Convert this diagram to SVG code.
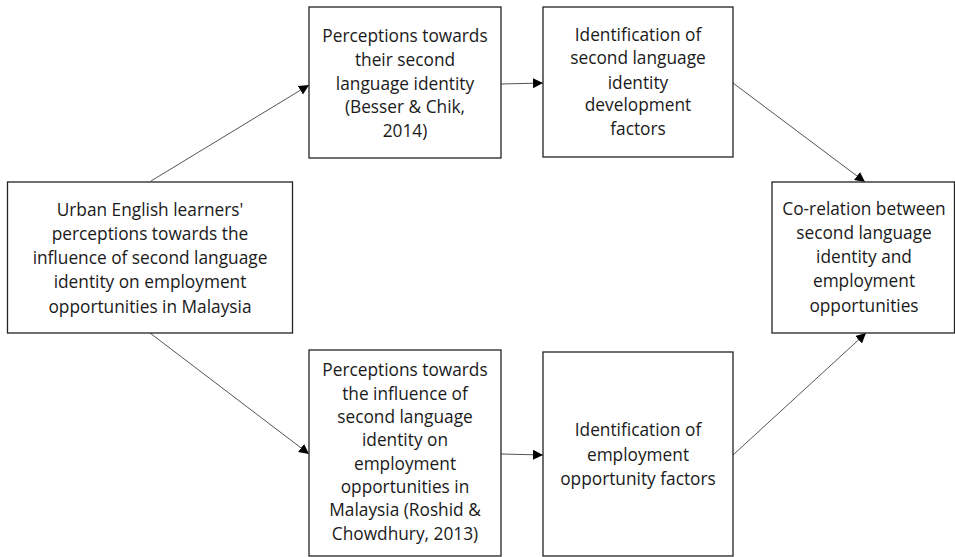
<svg xmlns="http://www.w3.org/2000/svg" width="955" height="557" viewBox="0 0 955 557">
<style>
.box{fill:#fff;stroke:#222;stroke-width:1.3}
.t{font-family:"Open Sans","Noto Sans",sans-serif;font-size:17.3px;fill:#1a1a1a;text-anchor:middle}
.c{stroke:#555;stroke-width:1;fill:none;marker-end:url(#ah)}
</style>
<defs>
<marker id="ah" viewBox="0 0 10 10" refX="10" refY="5" markerWidth="10" markerHeight="10" markerUnits="userSpaceOnUse" orient="auto">
<path d="M0,0 L10,5 L0,10 z" fill="#000"/>
</marker>
</defs>
<rect width="955" height="557" fill="#fff"/>
<g id="connectors">
<line class="c" x1="151" y1="181" x2="309" y2="85"/>
<line class="c" x1="501" y1="84" x2="543" y2="83"/>
<line class="c" x1="733" y1="83" x2="865" y2="182"/>
<line class="c" x1="150" y1="333" x2="309" y2="454"/>
<line class="c" x1="501" y1="454" x2="543" y2="455"/>
<line class="c" x1="733" y1="455" x2="866" y2="333"/>
</g>
<g id="n-urban">
<rect class="box" x="7.5" y="182" width="285" height="151"/>
<text class="t" x="150" y="216">Urban English learners'</text>
<text class="t" x="150" y="240">perceptions towards the</text>
<text class="t" x="150" y="264">influence of second language</text>
<text class="t" x="150" y="288">identity on employment</text>
<text class="t" x="150" y="313">opportunities in Malaysia</text>
</g>
<g id="n-perc-identity">
<rect class="box" x="309" y="7" width="192" height="151"/>
<text class="t" x="405" y="42">Perceptions towards</text>
<text class="t" x="405" y="66">their second</text>
<text class="t" x="405" y="90">language identity</text>
<text class="t" x="405" y="113">(Besser &amp; Chik,</text>
<text class="t" x="405" y="137">2014)</text>
</g>
<g id="n-ident-dev">
<rect class="box" x="543" y="7" width="190" height="150"/>
<text class="t" x="638" y="41">Identification of</text>
<text class="t" x="638" y="64">second language</text>
<text class="t" x="638" y="89">identity</text>
<text class="t" x="638" y="111">development</text>
<text class="t" x="638" y="135">factors</text>
</g>
<g id="n-corelation">
<rect class="box" x="772" y="182" width="182.5" height="151"/>
<text class="t" x="864" y="215">Co-relation between</text>
<text class="t" x="864" y="239">second language</text>
<text class="t" x="864" y="263">identity and</text>
<text class="t" x="864" y="287">employment</text>
<text class="t" x="864" y="312">opportunities</text>
</g>
<g id="n-perc-influence">
<rect class="box" x="309" y="350" width="192" height="206"/>
<text class="t" x="405" y="376">Perceptions towards</text>
<text class="t" x="405" y="400">the influence of</text>
<text class="t" x="405" y="423">second language</text>
<text class="t" x="405" y="446">identity on</text>
<text class="t" x="405" y="470">employment</text>
<text class="t" x="405" y="493">opportunities in</text>
<text class="t" x="405" y="516">Malaysia (Roshid &amp;</text>
<text class="t" x="405" y="540">Chowdhury, 2013)</text>
</g>
<g id="n-ident-emp">
<rect class="box" x="543" y="352" width="190" height="204"/>
<text class="t" x="638" y="436">Identification of</text>
<text class="t" x="638" y="461">employment</text>
<text class="t" x="638" y="485">opportunity factors</text>
</g>
</svg>
